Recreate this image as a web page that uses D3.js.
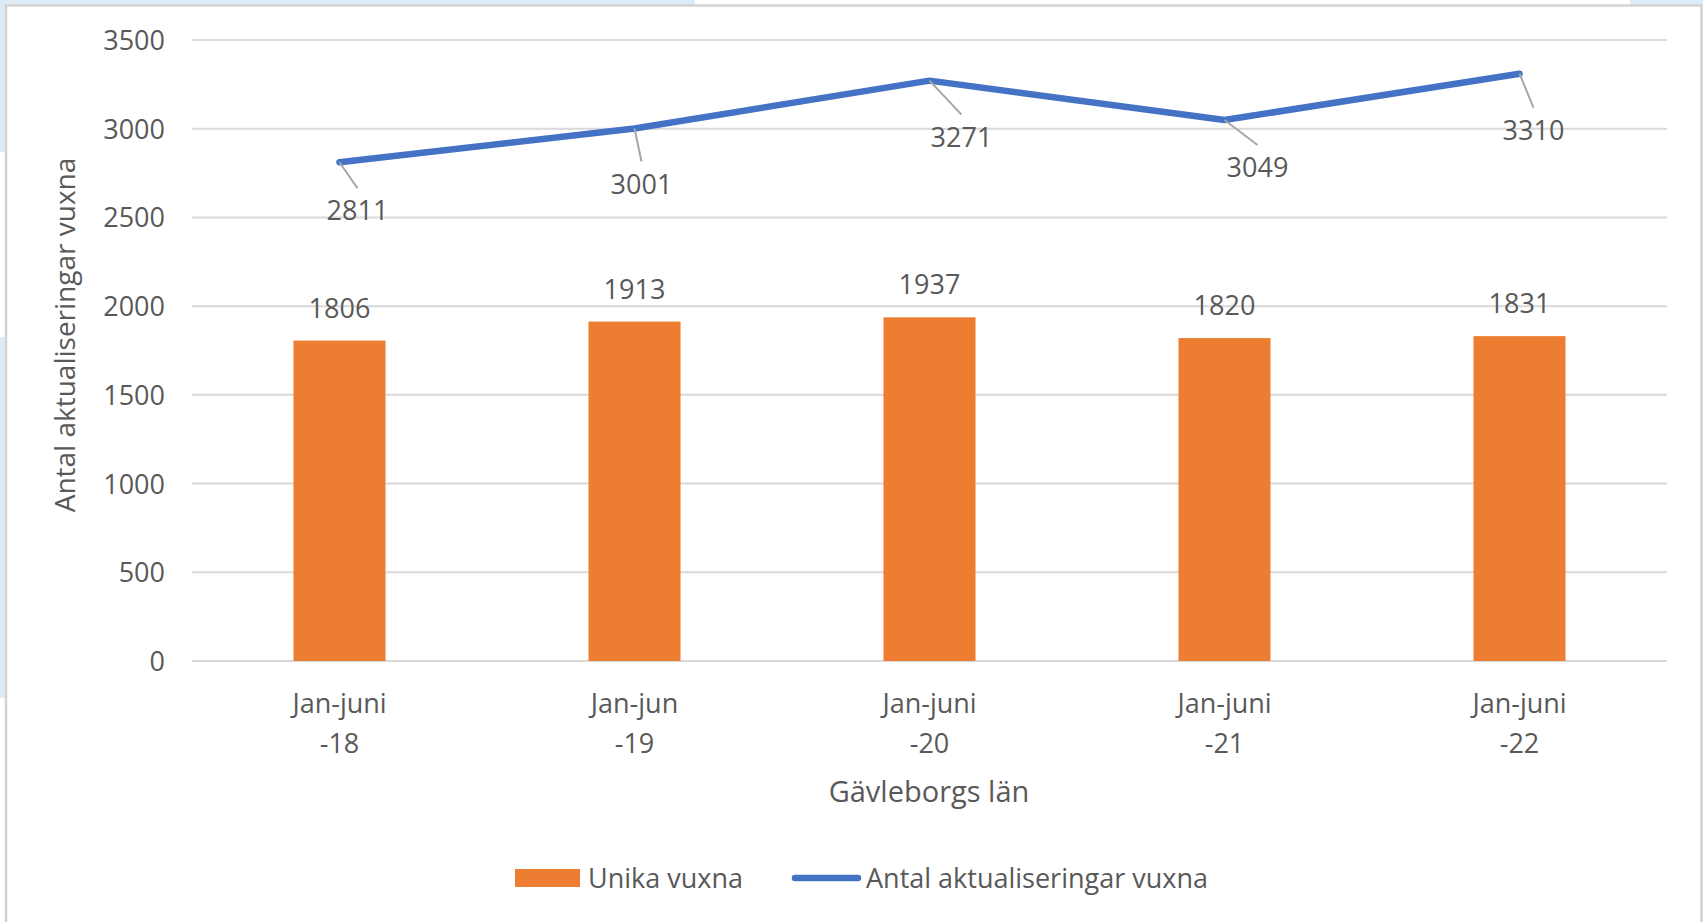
<!DOCTYPE html>
<html>
<head>
<meta charset="utf-8">
<script src="https://cdn.jsdelivr.net/npm/d3@7"></script>
<style>
  body { margin: 0; background: #fff; }
  text { font-family: "Open Sans", "Noto Sans", sans-serif; fill: #595959; }
</style>
</head>
<body>
<svg id="chart" width="1703" height="922"></svg>
<script>
// data
const periods = ['Jan-juni|-18', 'Jan-jun|-19', 'Jan-juni|-20', 'Jan-juni|-21', 'Jan-juni|-22']
const unikaVuxna = [1806, 1913, 1937, 1820, 1831]
const aktualiseringar = [2811, 3001, 3271, 3049, 3310]
const yTicks = [0, 500, 1000, 1500, 2000, 2500, 3000, 3500]
// label placement for the line labels (dx, dy from point)
const lineLabelOffsets = [[18, 58], [7, 65], [32, 66], [33, 57], [14, 66]]

const orange = '#ED7D31'
const blue = '#4472C4'
const fs = 27, titleFs = 29

const svg = d3.select('#chart')

// screenshot frame
svg.append('rect').attr('width', 1703).attr('height', 922).attr('fill', '#fff')
svg.append('rect').attr('x', 0).attr('y', 0).attr('width', 695).attr('height', 5).attr('fill', '#dcebf5')
svg.append('rect').attr('x', 1630).attr('y', 0).attr('width', 73).attr('height', 5).attr('fill', '#dcebf5')
svg.append('rect').attr('x', 0).attr('y', 0).attr('width', 5).attr('height', 152).attr('fill', '#dcebf5')
svg.append('rect').attr('x', 0).attr('y', 337).attr('width', 5).attr('height', 361).attr('fill', '#dcebf5')
svg.append('path')
    .attr('d', 'M6,930 V5.5 H1701.5 V930')
    .attr('fill', 'none')
    .attr('stroke', '#d3d3d3')
    .attr('stroke-width', 2.5)

const plotLeft = 192, plotRight = 1667, plotTop = 40, plotBottom = 661

const x = d3.scaleBand()
    .domain(periods)
    .range([plotLeft, plotRight])
    .paddingInner(0.688)
    .paddingOuter(0.344)

const xc = d3.scaleBand().domain(periods).range([plotLeft, plotRight])

const y = d3.scaleLinear()
    .domain([0, 3500])
    .range([plotBottom, plotTop])

// gridlines
svg.append('g')
    .selectAll('line')
    .data(yTicks)
    .join('line')
    .attr('x1', plotLeft)
    .attr('x2', plotRight)
    .attr('y1', d => y(d))
    .attr('y2', d => y(d))
    .attr('stroke', '#d9d9d9')
    .attr('stroke-width', 2)

// y axis labels
const yAxis = d3.axisLeft(y).tickValues(yTicks).tickFormat(d3.format('d')).tickSize(0).tickPadding(0)
const gy = svg.append('g').attr('transform', `translate(165,0)`).call(yAxis)
gy.select('.domain').remove()
gy.selectAll('text')
    .attr('font-size', fs)
    .attr('font-family', '"Open Sans", sans-serif')
    .attr('fill', '#595959')
    .attr('dy', '0.35em')

// bars
svg.append('g')
    .selectAll('rect')
    .data(unikaVuxna)
    .join('rect')
    .attr('x', (d, i) => x(periods[i]))
    .attr('y', d => y(d))
    .attr('width', x.bandwidth())
    .attr('height', d => plotBottom - y(d))
    .attr('fill', orange)

svg.append('g')
    .selectAll('text')
    .data(unikaVuxna)
    .join('text')
    .attr('x', (d, i) => xc(periods[i]) + xc.bandwidth() / 2)
    .attr('y', d => y(d) - 23)
    .attr('text-anchor', 'middle')
    .attr('font-size', fs)
    .text(d => d)

// line
const px = i => xc(periods[i]) + xc.bandwidth() / 2
const line = d3.line()
    .x((d, i) => px(i))
    .y(d => y(d))

svg.append('path')
    .datum(aktualiseringar)
    .attr('d', line)
    .attr('fill', 'none')
    .attr('stroke', blue)
    .attr('stroke-width', 6.5)
    .attr('stroke-linecap', 'round')
    .attr('stroke-linejoin', 'round')

// leader lines + labels
const lab = svg.append('g')
aktualiseringar.forEach((d, i) => {
    let [dx, dy] = lineLabelOffsets[i]
    let x0 = px(i), y0 = y(d)
    lab.append('line')
        .attr('x1', x0)
        .attr('y1', y0)
        .attr('x2', x0 + dx)
        .attr('y2', y0 + dy - 32)
        .attr('stroke', '#a6a6a6')
        .attr('stroke-width', 2)
    lab.append('text')
        .attr('x', x0 + dx)
        .attr('y', y0 + dy)
        .attr('text-anchor', 'middle')
        .attr('font-size', fs)
        .text(d)
})

// x axis labels
const gx = svg.append('g')
periods.forEach((p, i) => {
    let parts = p.split('|')
    let t = gx.append('text')
        .attr('text-anchor', 'middle')
        .attr('font-size', fs)
    parts.forEach((s, k) => {
        t.append('tspan')
            .attr('x', px(i))
            .attr('y', 713 + k * 40)
            .text(s)
    })
})

// axis titles
svg.append('text')
    .attr('x', 929)
    .attr('y', 802)
    .attr('text-anchor', 'middle')
    .attr('font-size', titleFs)
    .text('Gävleborgs län')

svg.append('text')
    .attr('transform', 'translate(75,335) rotate(-90)')
    .attr('text-anchor', 'middle')
    .attr('font-size', titleFs - 1)
    .text('Antal aktualiseringar vuxna')

// legend
const lg = svg.append('g')
lg.append('rect')
    .attr('x', 515).attr('y', 869)
    .attr('width', 65).attr('height', 18)
    .attr('fill', orange)
lg.append('text')
    .attr('x', 588).attr('y', 888)
    .attr('font-size', fs)
    .text('Unika vuxna')
lg.append('line')
    .attr('x1', 795).attr('x2', 858)
    .attr('y1', 878).attr('y2', 878)
    .attr('stroke', blue)
    .attr('stroke-width', 6.5)
    .attr('stroke-linecap', 'round')
lg.append('text')
    .attr('x', 866).attr('y', 888)
    .attr('font-size', fs)
    .text('Antal aktualiseringar vuxna')
</script>
</body>
</html>
